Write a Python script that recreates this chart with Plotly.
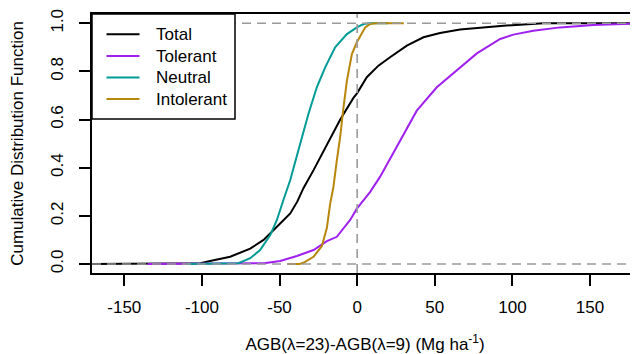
import plotly.graph_objects as go

# ---- data ----
total_x = [-185, -115, -101, -94.7, -81.8, -68.9, -60.3, -51.7, -43.1, -38.5, -34.6, -28.1, -21.7, -16, -10.9, -2.4, 0, 6.2, 13.7, 21.2, 32, 42.7, 53.4, 66.3, 77.1, 94.2, 120, 185]
total_y = [0, 0, 0.003, 0.0125, 0.03, 0.064, 0.1, 0.155, 0.21, 0.26, 0.315, 0.39, 0.47, 0.54, 0.6, 0.69, 0.71, 0.776, 0.824, 0.859, 0.907, 0.942, 0.96, 0.974, 0.98, 0.99, 1.0, 1.0]

tolerant_x = [-135, -70, -60, -49.6, -38.8, -28.1, -23.8, -19.5, -13.1, -4.5, -0.2, 8.4, 14.8, 21.2, 27.7, 38.4, 51.3, 64.2, 77.1, 92.1, 100.6, 113.5, 130.7, 152.2, 178, 185]
tolerant_y = [0, 0, 0.003, 0.0125, 0.033, 0.058, 0.075, 0.095, 0.113, 0.183, 0.23, 0.3, 0.363, 0.439, 0.515, 0.637, 0.734, 0.805, 0.875, 0.935, 0.953, 0.969, 0.983, 0.993, 1.0, 1.0]

neutral_x = [-110, -80, -76.4, -68.9, -62.5, -56, -51.7, -47.5, -43.1, -37.8, -31.4, -26, -20.6, -14.2, -6.6, -0.2, 4.1, 8, 20]
neutral_y = [0, 0, 0.003, 0.024, 0.058, 0.12, 0.183, 0.266, 0.349, 0.474, 0.623, 0.734, 0.817, 0.9, 0.955, 0.983, 0.997, 1.0, 1.0]

intolerant_x = [-45, -37, -34.6, -28.1, -22.7, -19.5, -17.4, -15.3, -13.1, -10.9, -9, -6.6, -3.4, -0.2, 5.2, 8.4, 12, 30]
intolerant_y = [0, 0, 0.005, 0.03, 0.075, 0.15, 0.25, 0.32, 0.43, 0.53, 0.64, 0.762, 0.872, 0.921, 0.983, 0.997, 1.0, 1.0]

series_names = ["Total", "Tolerant", "Neutral", "Intolerant"]
series_colors = ["#000000", "#A020F0", "#009B95", "#B8860B"]

x_tickvals = [-150, -100, -50, 0, 50, 100, 150]
x_ticktext = ["-150", "-100", "-50", "0", "50", "100", "150"]
y_tickvals = [0.0, 0.2, 0.4, 0.6, 0.8, 1.0]
y_ticktext = ["0.0", "0.2", "0.4", "0.6", "0.8", "1.0"]

FONT = "Liberation Sans, Arial, sans-serif"

# The page body has an 8px margin, so the figure is sized to fill the rest
# of the 638x354 window; plot area spans page px x 92..638, y 14..273.
OFF = 8
W, H = 638 - OFF, 354 - OFF
ML, MR, MT, MB = 92 - OFF, 0, 14 - OFF, 81
PW, PH = W - ML - MR, H - MT - MB
PL, PT = ML + OFF, MT + OFF  # plot-area left/top in page pixels


def px_x(p):
    return (p - PL) / PW


def px_y(p):
    return 1 - (p - PT) / PH


fig = go.Figure()
for name, xs, ys, col in zip(series_names,
                             [total_x, tolerant_x, neutral_x, intolerant_x],
                             [total_y, tolerant_y, neutral_y, intolerant_y],
                             series_colors):
    fig.add_trace(go.Scatter(x=xs, y=ys, mode="lines", name=name,
                             line=dict(color=col, width=2), showlegend=False))

dash_style = dict(color="#9A9A9A", width=1.6, dash="9px,6px")
fig.add_hline(y=0, line=dash_style, layer="above")
fig.add_hline(y=1, line=dash_style, layer="above")
fig.add_vline(x=0, line=dash_style, layer="above")

# legend box (drawn as shapes + annotations to match R's legend layout)
fig.add_shape(type="rect", xref="paper", yref="paper",
              x0=0, x1=px_x(235), y0=px_y(119), y1=1,
              fillcolor="white", line=dict(color="black", width=1.5), layer="above")
entry_y = [34.3, 56.0, 77.5, 99.0]
for name, col, ey in zip(series_names, series_colors, entry_y):
    fig.add_shape(type="line", xref="paper", yref="paper",
                  x0=px_x(106.5), x1=px_x(139.5), y0=px_y(ey), y1=px_y(ey),
                  line=dict(color=col, width=2), layer="above")
    fig.add_annotation(xref="paper", yref="paper", x=px_x(154), y=px_y(ey),
                       text=name, showarrow=False, xanchor="left", yanchor="middle",
                       font=dict(family=FONT, size=17, color="black"))

fig.update_layout(
    width=W, height=H,
    margin=dict(l=ML, r=MR, t=MT, b=MB),
    plot_bgcolor="white", paper_bgcolor="white",
    font=dict(family=FONT, size=17, color="black"),
    showlegend=False,
    xaxis=dict(range=[-170.8, 180.9], tickvals=x_tickvals, ticktext=x_ticktext,
               automargin=False,
               showgrid=False, zeroline=False, showline=True, mirror=True,
               linecolor="black", linewidth=1.5, ticks="outside", ticklen=11,
               tickwidth=1.5, tickcolor="black", ticklabelstandoff=7,
               title=dict(text="AGB(λ=23)-AGB(λ=9) (Mg ha<sup>-1</sup>)",
                          font=dict(size=17), standoff=22)),
    yaxis=dict(range=[-0.0374, 1.0386], tickvals=y_tickvals, ticktext=y_ticktext,
               automargin=False,
               showgrid=False, zeroline=False, showline=True, mirror=False,
               linecolor="black", linewidth=1.5, ticks="outside", ticklen=11,
               tickwidth=1.5, tickcolor="black", tickangle=-90, ticklabelstandoff=9,
               title=dict(text="Cumulative Distribution Function",
                          font=dict(size=17), standoff=21)),
)

fig.write_html("out.html")
